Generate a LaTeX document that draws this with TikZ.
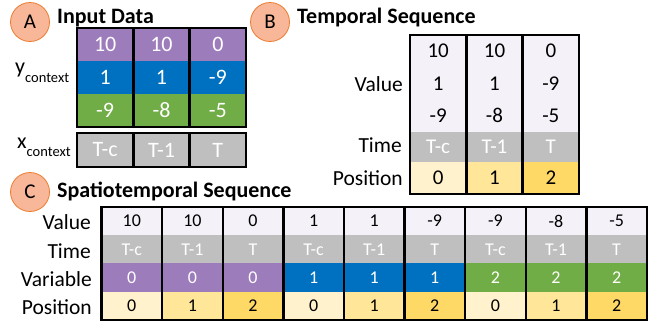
\documentclass[tikz,border=0pt]{standalone}
\usepackage{fontspec}
\setmainfont{Carlito}

\definecolor{varP}{RGB}{157,124,187}
\definecolor{varB}{RGB}{0,112,192}
\definecolor{varG}{RGB}{112,173,71}
\definecolor{timeG}{RGB}{191,191,191}
\definecolor{valL}{RGB}{244,241,248}
\definecolor{pos0}{RGB}{255,242,204}
\definecolor{pos1}{RGB}{255,230,153}
\definecolor{pos2}{RGB}{255,217,102}
\definecolor{badgeF}{RGB}{247,183,152}
\definecolor{badgeD}{RGB}{237,125,49}

\newcommand{\fs}[1]{\fontsize{#1}{#1}\selectfont}

\tikzset{
  badge/.style={circle, draw=badgeD, fill=badgeF, line width=0.8pt,
                minimum size=39pt, inner sep=0pt, font=\fs{21}},
  paneltitle/.style={anchor=base west, inner sep=0pt, font=\bfseries\fs{22}},
  rowlabel/.style={anchor=east, inner sep=0pt, font=\fs{21.5}},
  cellA/.style={inner sep=0pt, outer sep=0pt, minimum width=56.33pt,
                minimum height=33pt, font=\fs{22}, text=white},
  cellB/.style={inner sep=0pt, outer sep=0pt, minimum width=56.33pt,
                font=\fs{21}},
  cellC/.style={inner sep=0pt, outer sep=0pt, minimum width=60.6pt,
                minimum height=28.25pt, font=\fs{18}},
  gridline/.style={line width=2.4pt, black, line join=miter},
}

\begin{document}
\begin{tikzpicture}[x=1pt, y=-1pt]
\useasboundingbox (0,0) rectangle (657,327);

% ---------------- A: input data ----------------
\node[badge] (badgeA) at (30,22) {A};
\node[paneltitle] (titleA) at (57,23) {Input Data};

\foreach \r/\c/\fc/\v in {1/1/varP/10, 1/2/varP/10, 1/3/varP/0,
                          2/1/varB/1,  2/2/varB/1,  2/3/varB/-9,
                          3/1/varG/-9, 3/2/varG/-8, 3/3/varG/-5}
  \node[cellA, fill=\fc] (a-\r-\c) at ({77+56.33*(\c-0.5)}, {28+33*(\r-0.5)}) {\v};
\draw[gridline] (a-1-1.north west) rectangle (a-3-3.south east);
\draw[gridline] (a-1-1.north east) -- (a-3-1.south east);
\draw[gridline] (a-1-2.north east) -- (a-3-2.south east);

\foreach \t [count=\c] in {T-c,T-1,T}
  \node[cellA, fill=timeG, minimum height=34pt] (ax-\c) at ({77+56.33*(\c-0.5)}, 150) {\t};
\draw[gridline] (ax-1.north west) rectangle (ax-3.south east);
\draw[gridline] (ax-1.north east) -- (ax-1.south east);
\draw[gridline] (ax-2.north east) -- (ax-2.south east);

\node[anchor=base west, inner sep=0pt] (ylab) at (15,73.5)
  {\fs{22}y\raisebox{-8.5pt}{\fs{14.5}context}};
\node[anchor=base west, inner sep=0pt] (xlab) at (17,148)
  {\fs{22}x\raisebox{-8.5pt}{\fs{14.5}context}};

% ---------------- B: temporal sequence ----------------
\node[badge] (badgeB) at (270,22) {B};
\node[paneltitle] (titleB) at (297,23) {Temporal Sequence};

\foreach \r/\c/\v in {1/1/10, 1/2/10, 1/3/0,
                      2/1/1,  2/2/1,  2/3/-9,
                      3/1/-9, 3/2/-8, 3/3/-5}
  \node[cellB, fill=valL, minimum height=32.33pt] (b-\r-\c)
    at ({410+56.33*(\c-0.5)}, {35+32.33*(\r-0.5)}) {\v};
\foreach \t [count=\c] in {T-c,T-1,T}
  \node[cellB, fill=timeG, text=white, minimum height=30pt] (bt-\c)
    at ({410+56.33*(\c-0.5)}, 147) {\t};
\foreach \p/\fc [count=\c] in {0/pos0,1/pos1,2/pos2}
  \node[cellB, fill=\fc, minimum height=32pt] (bp-\c)
    at ({410+56.33*(\c-0.5)}, 178) {\p};
\draw[gridline] (b-1-1.north west) rectangle (bp-3.south east);
\draw[gridline] (b-1-1.north east) -- (bp-1.south east);
\draw[gridline] (b-1-2.north east) -- (bp-2.south east);

\node[rowlabel] (bvl) at (403,84) {Value};
\node[rowlabel] (btl) at (402,145.5) {Time};
\node[rowlabel] (bpl) at (403,178) {Position};

% ---------------- C: spatiotemporal sequence ----------------
\node[badge] (badgeC) at (30,192) {C};
\node[paneltitle] (titleC) at (57,197) {Spatiotemporal Sequence};

\foreach \v [count=\c] in {10,10,0,1,1,-9,-9,-8,-5}
  \node[cellC, fill=valL] (cv-\c) at ({101.5+60.6*(\c-0.5)}, 221.1) {\v};
\foreach \t [count=\c] in {T-c,T-1,T,T-c,T-1,T,T-c,T-1,T}
  \node[cellC, fill=timeG, text=white] (ct-\c) at ({101.5+60.6*(\c-0.5)}, 249.4) {\t};
\foreach \v/\fc [count=\c] in {0/varP,0/varP,0/varP,1/varB,1/varB,1/varB,2/varG,2/varG,2/varG}
  \node[cellC, fill=\fc, text=white] (cvar-\c) at ({101.5+60.6*(\c-0.5)}, 277.6) {\v};
\foreach \p/\fc [count=\c] in {0/pos0,1/pos1,2/pos2,0/pos0,1/pos1,2/pos2,0/pos0,1/pos1,2/pos2}
  \node[cellC, fill=\fc] (cp-\c) at ({101.5+60.6*(\c-0.5)}, 305.9) {\p};
\draw[gridline] (cv-1.north west) rectangle (cp-9.south east);
\foreach \c in {1,...,8}
  \draw[gridline] (cv-\c.north east) -- (cp-\c.south east);

\node[rowlabel] (cvl) at (91,222.6) {Value};
\node[rowlabel] (ctl) at (91,250.9) {Time};
\node[rowlabel] (cvarl) at (92,279.1) {Variable};
\node[rowlabel] (cpl) at (92,307.4) {Position};
\end{tikzpicture}
\end{document}
